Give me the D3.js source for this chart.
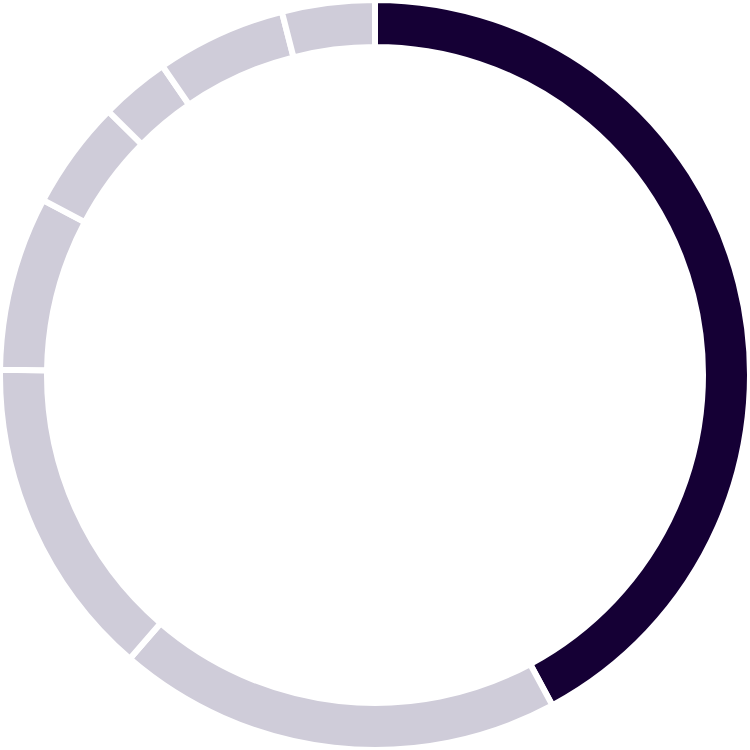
<!DOCTYPE html>
<html><head><meta charset="utf-8">
<script src="https://cdn.jsdelivr.net/npm/d3@7"></script>
<style>html,body{margin:0;padding:0;background:#fff;}</style>
</head><body>
<svg id="chart" width="750" height="750"></svg>
<script>
const categories = ["A","B","C","D","E","F","G","H"];
const values = [42.2, 19.2, 13.9, 7.5, 4.7, 3.0, 5.6, 4.0];
const colors = ["#150035","#cfccd9","#cfccd9","#cfccd9","#cfccd9","#cfccd9","#cfccd9","#cfccd9"];

const svg = d3.select("#chart");
const g = svg.append("g").attr("transform","translate(375,375)");
const pie = d3.pie().sort(null).value(d => d.v);
const arc = d3.arc().innerRadius(328).outerRadius(375);
const data = categories.map((c,i)=>({c, v: values[i], col: colors[i]}));
g.selectAll("path").data(pie(data)).join("path")
  .attr("d", arc)
  .attr("fill", d => d.data.col)
  .attr("stroke", "#fff")
  .attr("stroke-width", 6)
  .attr("stroke-linejoin","miter");
</script>
</body></html>
